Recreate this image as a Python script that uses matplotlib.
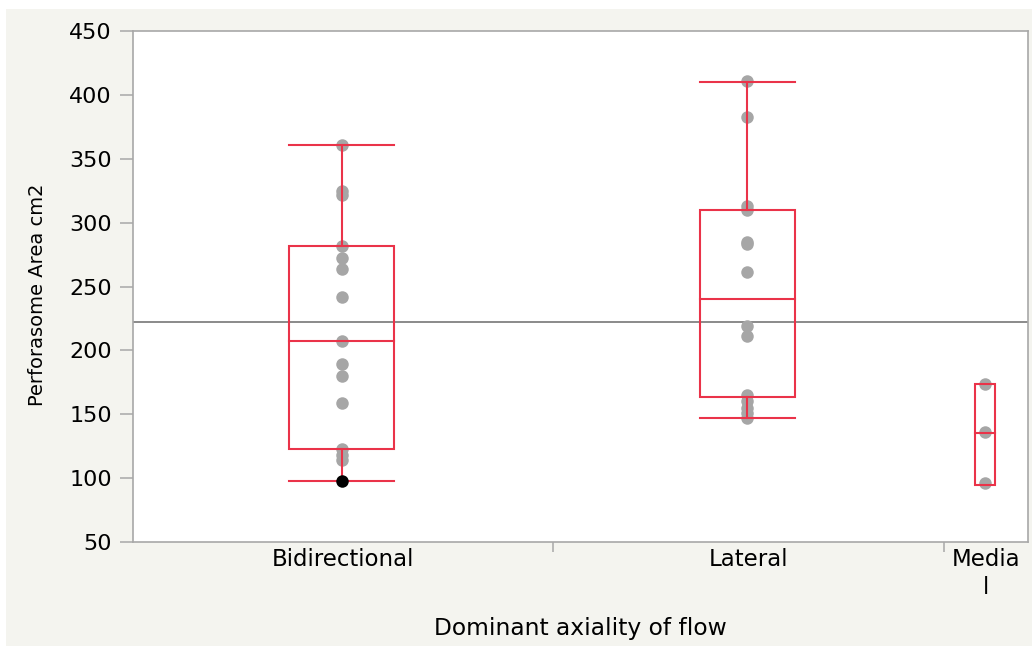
import matplotlib
matplotlib.use("Agg")
import matplotlib.pyplot as plt
from matplotlib.patches import Rectangle
import numpy as np

plt.rcParams['font.family'] = ['DejaVu Sans']

# ---- data ----
categories = ["Bidirectional", "Lateral", "Media\nl"]
bidirectional = [361, 325, 322, 282, 272, 264, 242, 207, 189, 180, 159, 123, 118, 114, 98]
lateral = [411, 383, 313, 310, 285, 283, 261, 219, 211, 165, 160, 155, 151, 147]
medial = [174, 136, 96]
groups = [bidirectional, lateral, medial]

# box statistics
box_lo = [98, 147, 95]
box_q1 = [123, 163.5, 95]
box_med = [207, 240, 135]
box_q3 = [282, 310, 173.5]
box_hi = [361, 410, 173.5]
highlight = [98]  # black (selected) point in Bidirectional

yticks = [50, 100, 150, 200, 250, 300, 350, 400, 450]

# ---- figure ----
W, H = 1032, 648
PX = 72 / 100  # points per pixel
fig = plt.figure(figsize=(W / 100, H / 100), dpi=100, facecolor="white")
bg = Rectangle((6 / W, 2 / H), (W - 6) / W, (H - 2 - 9) / H,
               transform=fig.transFigure, facecolor="#f4f4ef",
               edgecolor="none", zorder=-10)
fig.patches.append(bg)

L, R, T, B = 133, 1028, 31, 542
ax = fig.add_axes([L / W, 1 - B / H, (R - L) / W, (B - T) / H])
ax.set_zorder(5)
ax.set_facecolor("white")

counts = [len(g) for g in groups]
edges = np.concatenate([[0], np.cumsum(counts)])
centers = (edges[:-1] + edges[1:]) / 2.0
widths = [3.75, 3.4, 0.72]

red = "#ea3349"
lw = 1.5
for i, g in enumerate(groups):
    c = centers[i] - 0.03
    w = widths[i]
    ax.add_patch(Rectangle((c - w / 2, box_q1[i]), w, box_q3[i] - box_q1[i],
                           fill=False, edgecolor=red, lw=lw, zorder=4))
    ax.plot([c - w / 2, c + w / 2], [box_med[i]] * 2, color=red, lw=lw, zorder=4)
    if box_hi[i] > box_q3[i]:
        ax.plot([c, c], [box_q3[i], box_hi[i]], color=red, lw=lw, zorder=4)
        ax.plot([c - w / 2, c + w / 2], [box_hi[i]] * 2, color=red, lw=lw, zorder=4)
    if box_lo[i] < box_q1[i]:
        ax.plot([c, c], [box_lo[i], box_q1[i]], color=red, lw=lw, zorder=4)
        ax.plot([c - w / 2, c + w / 2], [box_lo[i]] * 2, color=red, lw=lw, zorder=4)
    vals = [v for v in g if not (i == 0 and v in highlight)]
    ax.plot([c] * len(vals), vals, 'o', color="#a6a6a6", ms=9, mec="none", zorder=3)

ax.plot([centers[0] - 0.03] * len(highlight), highlight, 'o', color="black", ms=9,
        mec="none", zorder=5)

allv = np.concatenate([np.array(g, float) for g in groups])
ax.axhline(allv.mean(), color="#8a8a8a", lw=1.4, zorder=2)

ax.set_xlim(edges[0], edges[-1])
ax.set_ylim(50, 450)
ax.set_yticks(yticks)
ax.set_xticks(centers)
ax.set_xticklabels(categories, linespacing=1.25)
ax.set_xticks(edges[1:-1], minor=True)
ax.tick_params(axis='x', which='major', length=0, pad=4.5, labelsize=16.5, colors="black")
ax.tick_params(axis='x', which='minor', length=10 * PX, width=1.1, color="#a8a8a8")
ax.tick_params(axis='y', length=13 * PX, width=1.1, color="#a8a8a8", labelsize=16,
               pad=8 * PX, labelcolor="black")

for s in ax.spines.values():
    s.set_color("#a8a8a8")
    s.set_linewidth(1.2)

ax.set_ylabel("Perforasome Area cm2", fontsize=14, va="baseline")
ax.yaxis.set_label_coords((43 - L) / (R - L), 0.5 - 8 / (B - T))
ax.set_xlabel("Dominant axiality of flow", fontsize=16.8, va="baseline")
ax.xaxis.set_label_coords(0.5, (B - 635) / (B - T))

fig.savefig("out.png", dpi=100, facecolor=fig.get_facecolor())
